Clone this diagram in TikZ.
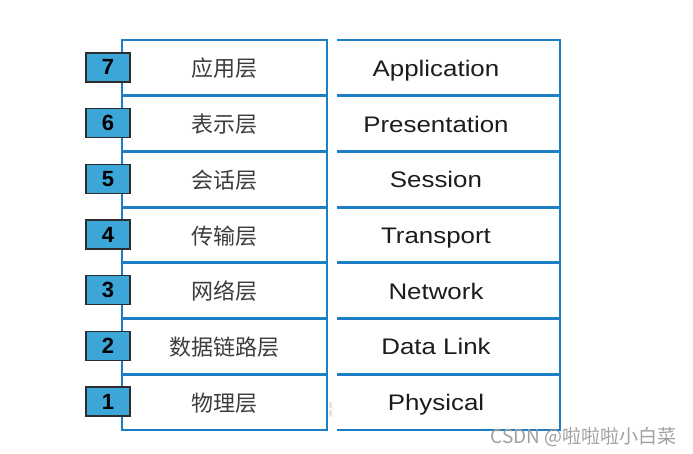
\documentclass[tikz,border=0pt]{standalone}
\usepackage{fontspec}
\setmainfont{Liberation Sans}
\newfontfamily\cjk{Noto Sans CJK SC}
\newfontfamily\enfont[FakeStretch=1.15]{Liberation Sans}
\definecolor{tblue}{RGB}{30,126,196}
\definecolor{bfill}{RGB}{60,166,216}
\definecolor{bdraw}{RGB}{45,45,45}
\definecolor{zhcol}{RGB}{60,60,60}
\definecolor{encol}{RGB}{28,28,28}
\definecolor{wmcol}{RGB}{160,160,160}
\tikzset{
  tline/.style={draw=tblue, line width=2.8pt},
  numbox/.style={draw=bdraw, line width=1.5pt, fill=bfill, minimum width=44pt, minimum height=29pt, inner sep=0pt,
    font=\fontsize{22}{24}\selectfont\bfseries, text=black},
  zhtext/.style={anchor=base, inner sep=0pt, font=\cjk\fontsize{22}{24}\selectfont, text=zhcol},
  entext/.style={anchor=base, inner sep=0pt, font=\enfont\fontsize{22.5}{24}\selectfont, text=encol},
}
\begin{document}
\begin{tikzpicture}[x=1pt,y=-1pt]
\useasboundingbox (0,0) rectangle (693,453);
\def\rh{55.714}
% left table
\draw[tline] (122,40) rectangle (327,430);
\foreach \k in {1,...,6}{
  \draw[tline] (122,{40+\rh*\k}) -- (327,{40+\rh*\k});
}
% right table
\draw[tline] (337,40) -- (560,40) -- (560,430) -- (337,430);
\foreach \k in {1,...,6}{
  \draw[tline] (337,{40+\rh*\k}) -- (560,{40+\rh*\k});
}
% rows
\foreach \n/\zh/\en [count=\k from 0] in {7/应用层/Application,6/表示层/Presentation,5/会话层/Session,4/传输层/Transport,3/网络层/Network,2/数据链路层/Data Link,1/物理层/Physical}{
  \pgfmathsetmacro\yc{40+\rh*(\k+0.5)}
  \node[numbox] (num\n) at (108,\yc-0.5) {\n};
  \node[zhtext] (zh\n) at (224.5,\yc+9) {\zh};
  \node[entext] (en\n) at (436,\yc+8.5) {\en};
}
\node[rotate=90, inner sep=0pt, font=\fontsize{3.5}{4}\selectfont, text=wmcol] (code) at (331,410) {3DfP\_055};
\node[anchor=base east, inner sep=0pt, font=\cjk\fontsize{19}{21}\selectfont, text=wmcol] (wm) at (677,443) {CSDN @啦啦啦小白菜};
\end{tikzpicture}
\end{document}
